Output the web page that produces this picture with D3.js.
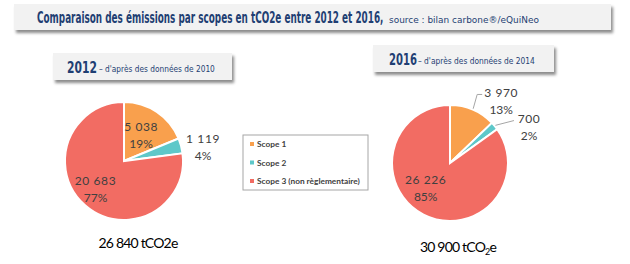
<!DOCTYPE html>
<meta charset="utf-8">
<title>Emissions par scopes</title>
<style>
  body { margin: 0; background: #fff; }
  svg { display: block; font-family: "Lato", "Open Sans", sans-serif; }
  .lbl { fill: #404040; font-size: 12px; }
</style>
<svg id="chart" width="630" height="264"></svg>
<script src="https://cdn.jsdelivr.net/npm/d3@7/dist/d3.min.js"></script>
<script>
// data
var scopes = ["Scope 1", "Scope 2", "Scope 3 (non règlementaire)"];
var colors = ["#f9a04d", "#5ec8c9", "#f26c63"];
var values2012 = [5038, 1119, 20683];
var pct2012 = ["19%", "4%", "77%"];
var values2016 = [3970, 700, 26226];
var pct2016 = ["13%", "2%", "85%"];
var totals = ["26 840 tCO2e", "30 900 tCO"];

var svg = d3.select("#chart");

var defs = svg.append("defs");
var f = defs.append("filter").attr("id", "shadow")
  .attr("x", "-5%").attr("y", "-20%").attr("width", "115%").attr("height", "160%");
f.append("feDropShadow").attr("dx", 2).attr("dy", 3).attr("stdDeviation", 1.5)
  .attr("flood-color", "#000").attr("flood-opacity", 0.45);

var fmt = function(v) { return d3.format(",")(v).replace(/,/g, " "); };

// squeeze a text horizontally so that it spans w pixels from x
function fitText(x, y, w, str, size, weight) {
  var el = svg.append("text").attr("fill", "#1f3f73")
    .style("font-family", "'DejaVu Sans Condensed', 'DejaVu Sans', sans-serif")
    .attr("font-size", size).attr("font-weight", weight || "normal")
    .text(str);
  var len = el.node().getComputedTextLength();
  el.attr("transform", "translate(" + x + "," + y + ") scale(" + (w / len) + ",1)");
  return el;
}

// title banner
svg.append("rect").attr("x", 14).attr("y", 4).attr("width", 597).attr("height", 26)
  .attr("fill", "#f2f2f2").attr("filter", "url(#shadow)");
fitText(37, 23, 347, "Comparaison des émissions par scopes en tCO2e entre 2012 et 2016,", 16, "bold");
fitText(389, 23, 150, "source : bilan carbone®/eQuiNeo", 8.5);

// subtitle boxes
function subtitle(x, y, w, year, note, yx, yw, nx, nw) {
  svg.append("rect").attr("x", x).attr("y", y).attr("width", w).attr("height", 27)
    .attr("fill", "#f2f2f2").attr("filter", "url(#shadow)");
  fitText(yx, y + 20, yw, year, 16, "bold");
  fitText(nx, y + 19, nw, note, 9.5);
}
subtitle(53, 53, 179, "2012", "– d'après des données de 2010", 67, 30, 99, 116);
subtitle(373, 45, 181, "2016", "– d'après des données de 2014", 389, 28, 418, 117);

var pie = d3.pie().sort(null).value(function(d) { return d; });

function drawPie(cx, cy, r, values, pcts, labelR, outside) {
  var g = svg.append("g").attr("transform", "translate(" + cx + "," + cy + ")");
  var arcs = pie(values);
  var arc = d3.arc().innerRadius(0).outerRadius(r);
  g.selectAll("path").data(arcs).enter().append("path")
    .attr("d", arc)
    .attr("fill", function(d, i) { return colors[i]; })
    .attr("stroke", "#fff").attr("stroke-width", 2).attr("stroke-linejoin", "miter");

  arcs.forEach(function(d, i) {
    var a = (d.startAngle + d.endAngle) / 2 + labelR[i][1];
    var rr = r * labelR[i][0];
    var x = Math.sin(a) * rr, y = -Math.cos(a) * rr;
    if (outside[i]) {
      var ma = (d.startAngle + d.endAngle) / 2;
      var p0 = [Math.sin(ma) * (r + 1), -Math.cos(ma) * (r + 1)];
      var tx = x - (i === 0 ? 18 : 14), ty = y - 7;
      var line = i === 0
        ? [p0, [tx - 6, ty], [tx - 1, ty]]
        : [p0, [tx - 1, ty + 1]];
      g.append("path").attr("d", d3.line()(line))
        .attr("fill", "none").attr("stroke", "#a6a6a6").attr("stroke-width", 1);
    }
    var tt = g.append("text").attr("class", "lbl").attr("text-anchor", "middle")
      .attr("transform", "translate(" + x + "," + y + ")");
    tt.append("tspan").attr("x", 0).attr("y", -4).attr("letter-spacing", 0.6).text(fmt(values[i]));
    tt.append("tspan").attr("x", 0).attr("y", 13).text(pcts[i]);
  });
  return g;
}

drawPie(124, 161, 59, values2012, pct2012,
  [[0.53, -0.01], [1.36, 0.09], [0.68, 0.07]], [false, false, false]);
drawPie(450, 163, 58, values2016, pct2016,
  [[1.38, 0.29], [1.5, 0.26], [0.6, 0.3]], [true, true, false]);

// totals
svg.append("text").attr("x", 138).attr("y", 248).attr("text-anchor", "middle")
  .attr("font-size", 14).attr("fill", "#000").attr("letter-spacing", -0.8)
  .text(totals[0]);
var t2 = svg.append("text").attr("x", 458).attr("y", 252).attr("text-anchor", "middle")
  .attr("font-size", 14).attr("fill", "#000").attr("letter-spacing", -0.8);
t2.append("tspan").text(totals[1]);
t2.append("tspan").attr("font-size", 9).attr("dy", 3).text("2");
t2.append("tspan").attr("dy", -3).text("e");

// legend
var lg = svg.append("g").attr("transform", "translate(243,135)");
lg.append("rect").attr("width", 125).attr("height", 55)
  .attr("fill", "#fff").attr("stroke", "#a6a6a6").attr("stroke-width", 1);
var ly = d3.scalePoint().domain(scopes).range([9, 46]);
var items = lg.selectAll("g.item").data(scopes).enter().append("g")
  .attr("transform", function(d) { return "translate(7," + ly(d) + ")"; });
items.append("rect").attr("x", 0).attr("y", -2).attr("width", 4).attr("height", 4)
  .attr("fill", function(d, i) { return colors[i]; });
items.append("text").attr("x", 7).attr("y", 3).attr("font-size", 8.3)
  .attr("font-weight", "bold").attr("fill", "#404040")
  .text(function(d) { return d; });
</script>
